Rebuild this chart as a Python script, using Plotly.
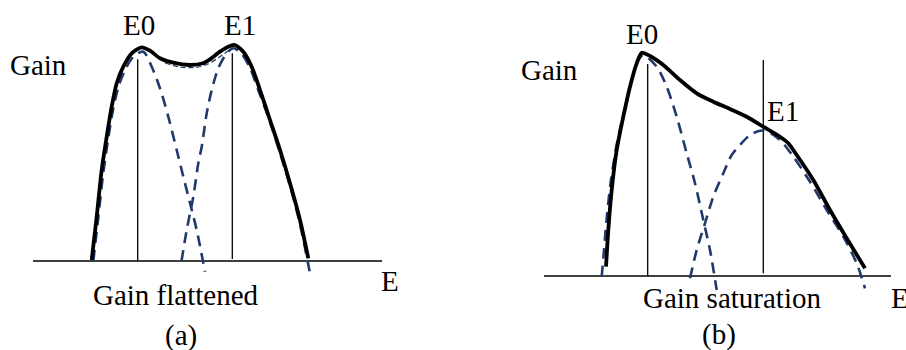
import plotly.graph_objects as go
from plotly.subplots import make_subplots

# ---------------- Panel (a): gain flattened ----------------
# total gain spectrum (solid)
a_total_E = [9.17, 9.67, 10.17, 10.67, 11.17, 11.67, 12.33, 13.17, 14.17, 15.0, 16.0, 17.33,
             19.0, 20.3, 21.0, 22.0, 23.0, 23.5, 24.33, 25.17, 26.0, 27.0, 28.0, 29.0, 30.0, 30.83]
a_total_G = [0.1, 4.43, 9.1, 12.43, 15.43, 17.77, 19.43, 20.77, 21.37, 21.03, 20.27, 19.83,
             19.6, 19.77, 20.17, 20.93, 21.5, 21.6, 20.93, 19.43, 17.1, 14.1, 11.1, 7.77, 4.1, 0.27]
# E0 component (dashed)
a_e0_E = [9.33, 9.8, 10.3, 10.8, 11.3, 11.9, 12.6, 13.4, 14.33, 15.17, 16.0, 16.83, 17.67,
          18.33, 19.0, 19.67, 20.5]
a_e0_G = [0.0, 4.1, 8.6, 12.1, 15.1, 17.6, 19.3, 20.5, 20.93, 19.43, 17.27, 14.43, 11.1,
          8.43, 5.8, 3.1, -1.07]
# E1 component (dashed)
a_e1_E = [18.15, 18.67, 19.33, 19.83, 20.17, 20.67, 21.17, 21.83, 22.67, 23.33, 24.1, 25.0,
          25.9, 27.0, 28.0, 29.0, 30.0, 31.0]
a_e1_G = [0.0, 3.1, 6.43, 9.77, 11.43, 14.77, 17.1, 19.27, 20.77, 21.27, 20.8, 19.3,
          16.9, 13.9, 10.8, 7.5, 3.7, -1.23]
# overlap region under the dip (thin dashed)
a_dip_E = [16.5, 18.0, 19.5, 20.8, 21.8, 22.8]
a_dip_G = [19.8, 19.4, 19.35, 19.7, 20.3, 21.0]
# transition energies and their marker heights
a_marker_E = [13.77, 23.23]
a_marker_lo = [0.0, 0.2]
a_marker_hi = [20.17, 20.77]
a_axis_E = [3.3, 38.2]

# ---------------- Panel (b): gain saturation ----------------
b_total_E = [15.3, 15.53, 15.87, 16.37, 17.03, 17.7, 18.37, 18.87, 19.7, 21.03, 22.7, 24.37,
             26.03, 27.7, 29.37, 31.03, 32.7, 33.53, 34.37, 36.03, 37.7, 39.37, 41.2]
b_total_G = [0.93, 4.6, 8.6, 12.6, 15.93, 18.93, 21.27, 22.33, 22.0, 21.1, 19.6, 18.27,
             17.43, 16.7, 15.93, 14.93, 13.93, 13.27, 12.1, 9.6, 6.6, 3.77, 0.77]
b_e0_E = [14.87, 15.1, 15.4, 15.8, 16.4, 17.1, 17.8, 18.4, 19.0, 20.37, 21.37, 22.37, 23.37,
          24.2, 25.03, 25.7, 26.37]
b_e0_G = [-0.07, 2.6, 6.1, 9.6, 13.3, 16.4, 19.3, 21.3, 22.1, 20.93, 18.93, 15.93, 12.27,
          9.27, 5.6, 2.6, -1.4]
b_e1_E = [23.7, 24.37, 25.2, 26.03, 27.03, 27.87, 28.7, 29.7, 30.7, 31.37, 32.7, 34.03,
          35.7, 37.37, 39.03, 40.37, 41.2]
b_e1_G = [-0.23, 2.6, 5.27, 7.93, 10.27, 12.1, 13.1, 14.1, 14.53, 14.5, 13.6, 11.93,
          9.43, 6.6, 3.93, 1.27, -1.23]
b_marker_E = [19.47, 31.03]
b_marker_lo = [0.0, 0.27]
b_marker_hi = [21.2, 21.6]
b_axis_E = [9.1, 43.8]

SOLID = "#000000"
DASH_COLOR = "#1F3A6B"
FONT = "Liberation Serif"
FS = 29

fig = make_subplots(rows=1, cols=2, horizontal_spacing=0)


def add_panel(col, axis_E, marker_E, marker_lo, marker_hi, comps, total, extra=None):
    # energy axis
    fig.add_trace(go.Scatter(x=axis_E, y=[0, 0], mode="lines",
                             line=dict(color=SOLID, width=1.5)), row=1, col=col)
    # vertical lines at transition energies
    for e, lo, hi in zip(marker_E, marker_lo, marker_hi):
        fig.add_trace(go.Scatter(x=[e, e], y=[lo, hi], mode="lines",
                                 line=dict(color=SOLID, width=1.3)), row=1, col=col)
    # individual transition contributions
    for xs, ys in comps:
        fig.add_trace(go.Scatter(x=xs, y=ys, mode="lines",
                                 line=dict(color=DASH_COLOR, width=2.6, dash="11px,7px",
                                           shape="spline", smoothing=0.8)),
                      row=1, col=col)
    if extra is not None:
        fig.add_trace(go.Scatter(x=extra[0], y=extra[1], mode="lines",
                                 line=dict(color=DASH_COLOR, width=1.2, dash="5px,3px",
                                           shape="spline", smoothing=0.8)),
                      row=1, col=col)
    # total gain
    fig.add_trace(go.Scatter(x=total[0], y=total[1], mode="lines",
                             line=dict(color=SOLID, width=3.8, shape="spline", smoothing=0.7)),
                  row=1, col=col)


add_panel(1, a_axis_E, a_marker_E, a_marker_lo, a_marker_hi,
          [(a_e0_E, a_e0_G), (a_e1_E, a_e1_G)], (a_total_E, a_total_G),
          extra=(a_dip_E, a_dip_G))
add_panel(2, b_axis_E, b_marker_E, b_marker_lo, b_marker_hi,
          [(b_e0_E, b_e0_G), (b_e1_E, b_e1_G)], (b_total_E, b_total_G))

fig.update_traces(showlegend=False, hoverinfo="skip", cliponaxis=False)

ax_hidden = dict(visible=False, showgrid=False, zeroline=False, fixedrange=True)
fig.update_layout(
    xaxis=dict(range=[0, 45.3], domain=[0, 0.5], **ax_hidden),
    yaxis=dict(range=[-8.9, 26.1], domain=[0, 1], **ax_hidden),
    xaxis2=dict(range=[0, 45.3], domain=[0.5, 1], **ax_hidden),
    yaxis2=dict(range=[-7.4, 27.6], domain=[0, 1], **ax_hidden),
    width=906, height=350,
    margin=dict(l=0, r=0, t=0, b=0),
    paper_bgcolor="white", plot_bgcolor="white",
    showlegend=False,
)


def label(text, x, y, xref, yref):
    fig.add_annotation(text=text, x=x, y=y, xref=xref, yref=yref, showarrow=False,
                       xanchor="center", yanchor="middle",
                       font=dict(family=FONT, size=FS, color="#000000"))


label("E0", 13.85, 23.65, "x", "y")
label("E1", 23.95, 23.65, "x", "y")
label("Gain", 3.87, 19.6, "x", "y")
label("Gain flattened", 17.58, -3.35, "x", "y")
label("E", 39.0, -2.0, "x", "y")
label("(a)", 18.1, -7.45, "x", "y")

label("E0", 18.85, 24.2, "x2", "y2")
label("E1", 32.95, 16.55, "x2", "y2")
label("Gain", 9.6, 20.6, "x2", "y2")
label("Gain saturation", 27.85, -2.2, "x2", "y2")
label("(b)", 26.55, -5.8, "x2", "y2")
label("E", 44.7, -2.2, "x2", "y2")

fig.write_html("out.html")
